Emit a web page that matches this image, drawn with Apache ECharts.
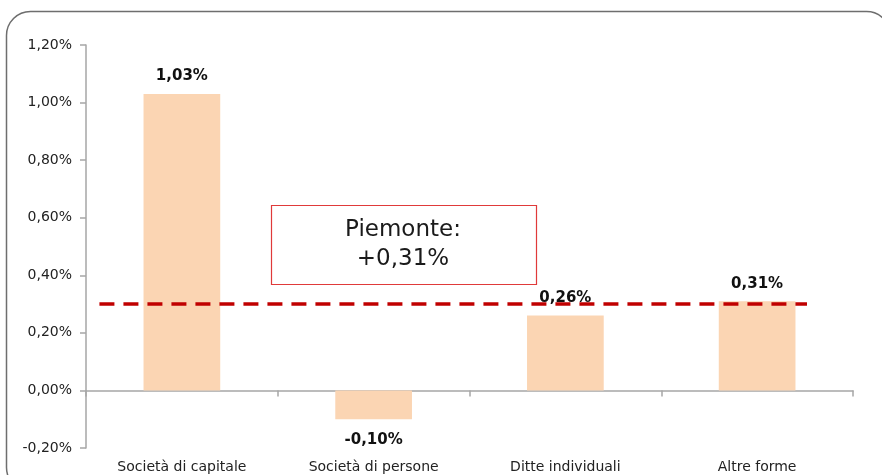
<!DOCTYPE html>
<html>
<head>
<meta charset="utf-8">
<script src="https://cdn.jsdelivr.net/npm/echarts@6/dist/echarts.min.js"></script>
<style>
html,body{margin:0;padding:0;background:#fff;}
#chart{width:882px;height:475px;}
</style>
</head>
<body>
<div id="chart"></div>
<script>
// Data
var categories = ['Società di capitale', 'Società di persone', 'Ditte individuali', 'Altre forme'];
var values = [1.03, -0.10, 0.26, 0.31];
var piemonteLine = 0.30;          // level of the dashed reference line (%)
var piemonteLineSpan = [0.07, 3.76]; // start/end along the category band scale
var piemonteText = 'Piemonte:\n+0,31%';
var yMin = -0.2, yMax = 1.2, yStep = 0.2;

function fmt(v) {
  if (Math.abs(v) < 1e-9) v = 0;
  return v.toFixed(2).replace('.', ',') + '%';
}

var font = 'DejaVu Sans, Verdana, sans-serif';
var chart = echarts.init(document.getElementById('chart'));

var labelData = values.map(function (v) {
  return {
    value: v,
    label: { position: v < 0 ? 'bottom' : 'top', distance: v < 0 ? 13 : 10 }
  };
});

chart.setOption({
  animation: false,
  backgroundColor: '#ffffff',
  grid: { left: 86, right: 29, top: 45, bottom: 27, containLabel: false },
  xAxis: [
    {
      type: 'category', data: categories, position: 'bottom',
      axisLine: { show: false, onZero: false },
      axisTick: { show: false },
      axisLabel: { color: '#222', fontSize: 14, fontFamily: font, margin: 12, interval: 0 }
    },
    {
      type: 'category', data: categories, position: 'top',
      axisLine: { show: true, onZero: true, lineStyle: { color: '#a6a6a6', width: 1.5 } },
      axisTick: { show: true, inside: true, length: 6, lineStyle: { color: '#a6a6a6', width: 1.5 } },
      axisLabel: { show: false }
    },
    {
      type: 'value', min: 0, max: categories.length, show: false
    }
  ],
  yAxis: {
    type: 'value', min: yMin, max: yMax, interval: yStep,
    axisLine: { show: true, lineStyle: { color: '#a6a6a6', width: 1.5 } },
    axisTick: { show: true, length: 6, lineStyle: { color: '#a6a6a6', width: 1.5 } },
    splitLine: { show: false },
    axisLabel: { color: '#222', fontSize: 14, fontFamily: font, margin: 14, formatter: fmt }
  },
  series: [
    {
      type: 'bar', xAxisIndex: 0, data: values, barWidth: '40%', z: 1,
      itemStyle: { color: '#fbd5b3' }
    },
    {
      type: 'line', xAxisIndex: 2, z: 2, symbol: 'none', silent: true,
      data: [[piemonteLineSpan[0], piemonteLine], [piemonteLineSpan[1], piemonteLine]],
      lineStyle: { color: '#c00000', width: 3.5, type: [15, 9] }
    },
    {
      type: 'bar', xAxisIndex: 0, data: labelData, barWidth: '40%', barGap: '-100%', z: 3,
      itemStyle: { color: 'rgba(0,0,0,0)' },
      label: {
        show: true, fontSize: 15, fontWeight: 'bold', fontFamily: font, color: '#111',
        formatter: function (p) { return fmt(p.value); }
      }
    }
  ],
  graphic: [
    {
      type: 'rect', z: 0,
      shape: { x: 6.5, y: 11.5, width: 884, height: 480, r: 24 },
      style: { fill: 'none', stroke: '#6e6e6e', lineWidth: 1.5 }
    },
    {
      type: 'rect', z: 10,
      shape: { x: 271.5, y: 205.5, width: 265, height: 79 },
      style: { fill: '#fff', stroke: '#e03a3a', lineWidth: 1.2 }
    },
    {
      type: 'text', z: 11, x: 403, y: 244.5,
      style: {
        text: piemonteText, fill: '#1a1a1a', fontSize: 23, fontFamily: font,
        align: 'center', verticalAlign: 'middle', lineHeight: 29
      }
    }
  ]
});
</script>
</body>
</html>
